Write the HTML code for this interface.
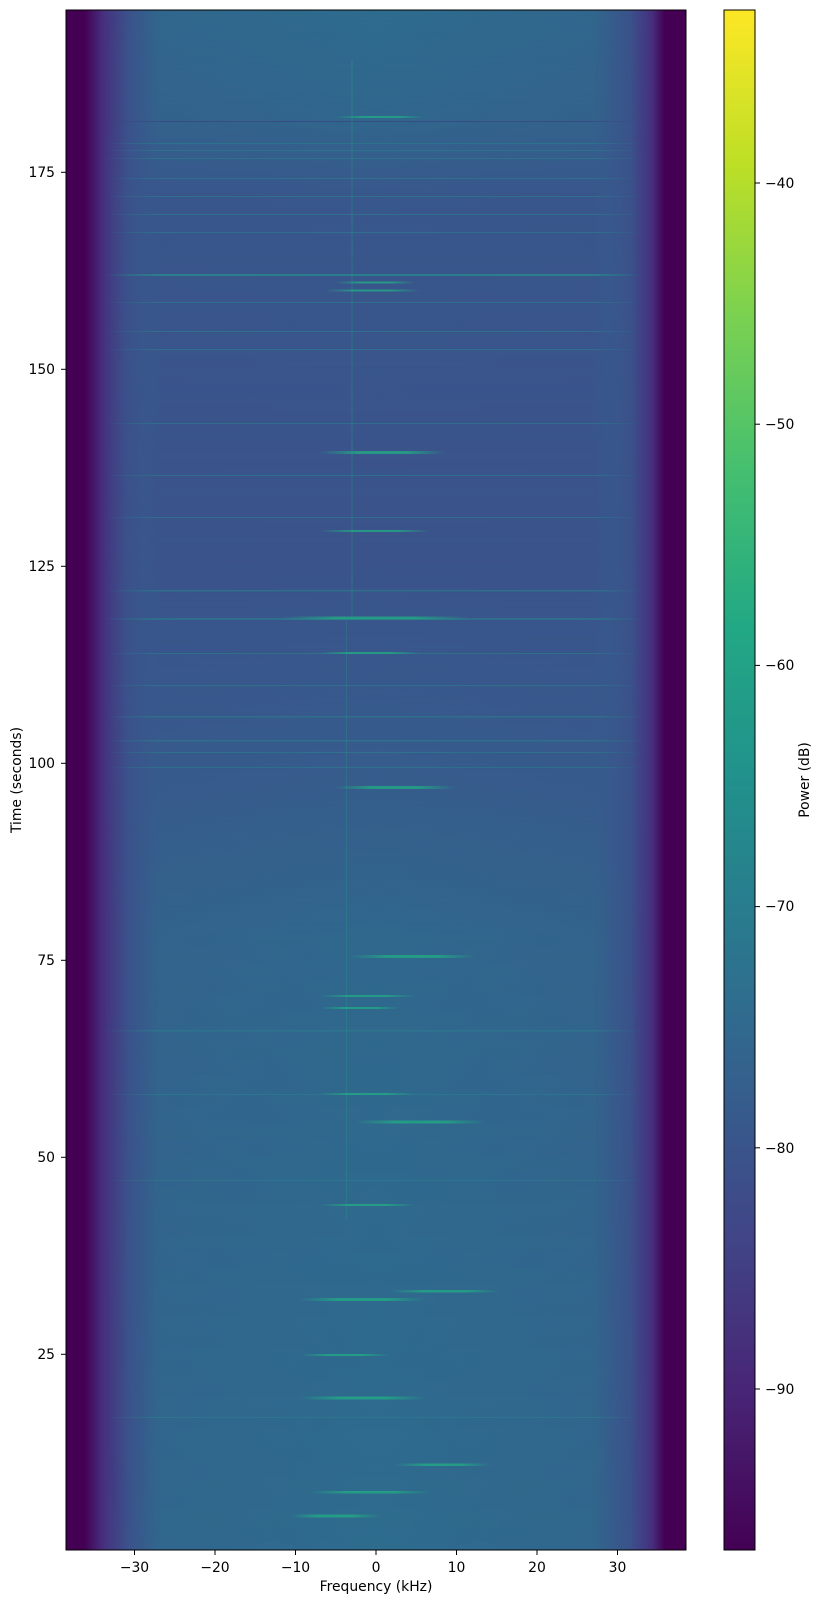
<!DOCTYPE html>
<html><head><meta charset="utf-8"><style>
html,body{margin:0;padding:0;background:#fff;}
svg text{font-family:"DejaVu Sans","Liberation Sans",sans-serif;font-size:13.9px;fill:#000;}
</style></head><body>
<svg width="823" height="1603" viewBox="0 0 823 1603" xmlns="http://www.w3.org/2000/svg">
<defs>
<linearGradient id="hz" x1="66" x2="686" y1="0" y2="0" gradientUnits="userSpaceOnUse">
<stop offset="0" stop-color="#440154"/>
<stop offset="0.03" stop-color="#440154"/>
<stop offset="0.06" stop-color="#46307e"/>
<stop offset="0.10" stop-color="#3b528b"/>
<stop offset="0.15" stop-color="#31678d"/>
<stop offset="0.5" stop-color="#2e6c8e"/>
<stop offset="0.85" stop-color="#31678d"/>
<stop offset="0.91" stop-color="#3b528b"/>
<stop offset="0.945" stop-color="#46307e"/>
<stop offset="0.965" stop-color="#440154"/>
<stop offset="1" stop-color="#440154"/>
</linearGradient>
<linearGradient id="hm" x1="66" x2="686" y1="0" y2="0" gradientUnits="userSpaceOnUse">
<stop offset="0" stop-color="#fff" stop-opacity="0"/>
<stop offset="0.06" stop-color="#fff" stop-opacity="0"/>
<stop offset="0.15" stop-color="#fff" stop-opacity="1"/>
<stop offset="0.85" stop-color="#fff" stop-opacity="1"/>
<stop offset="0.93" stop-color="#fff" stop-opacity="0"/>
<stop offset="1" stop-color="#fff" stop-opacity="0"/>
</linearGradient>
<mask id="mk"><rect x="66" y="10" width="620" height="1540" fill="url(#hm)"/></mask>
<linearGradient id="vt" x1="0" x2="0" y1="10" y2="1550" gradientUnits="userSpaceOnUse">
<stop offset="0" stop-color="#3b528b" stop-opacity="0"/>
<stop offset="0.07" stop-color="#3b528b" stop-opacity="0.2"/>
<stop offset="0.12" stop-color="#3b528b" stop-opacity="0.8"/>
<stop offset="0.35" stop-color="#3b528b" stop-opacity="0.95"/>
<stop offset="0.5" stop-color="#3b528b" stop-opacity="0.6"/>
<stop offset="0.6" stop-color="#3b528b" stop-opacity="0.15"/>
<stop offset="1" stop-color="#3b528b" stop-opacity="0"/>
</linearGradient>
<linearGradient id="st" x1="0" x2="1" y1="0" y2="0">
<stop offset="0" stop-color="#22a884" stop-opacity="0"/>
<stop offset="0.3" stop-color="#22a884" stop-opacity="0.8"/>
<stop offset="0.7" stop-color="#22a884" stop-opacity="0.8"/>
<stop offset="1" stop-color="#22a884" stop-opacity="0"/>
</linearGradient>
<linearGradient id="cb" x1="0" x2="0" y1="1550" y2="10" gradientUnits="userSpaceOnUse">
<stop offset="0" stop-color="#440154"/>
<stop offset="0.1" stop-color="#482475"/>
<stop offset="0.2" stop-color="#414487"/>
<stop offset="0.3" stop-color="#355f8d"/>
<stop offset="0.4" stop-color="#2a788e"/>
<stop offset="0.5" stop-color="#21918c"/>
<stop offset="0.6" stop-color="#22a884"/>
<stop offset="0.7" stop-color="#44bf70"/>
<stop offset="0.8" stop-color="#7ad151"/>
<stop offset="0.9" stop-color="#bddf26"/>
<stop offset="1" stop-color="#fde725"/>
</linearGradient>
</defs>
<rect x="66" y="10" width="620" height="1540" fill="url(#hz)"/>
<rect x="66" y="10" width="620" height="1540" fill="url(#vt)" mask="url(#mk)"/>
<g mask="url(#mk)" fill="#2a7f8e" opacity="0.6">
<rect x="66" y="121" width="620" height="1" fill="#3b3f80"/>
<rect x="66" y="143" width="620" height="1"/><rect x="66" y="150" width="620" height="1"/>
<rect x="66" y="158" width="620" height="1"/><rect x="66" y="178" width="620" height="1"/>
<rect x="66" y="196" width="620" height="1"/><rect x="66" y="214" width="620" height="1"/>
<rect x="66" y="232" width="620" height="1"/><rect x="66" y="274" width="620" height="2" fill="#229a8a"/>
<rect x="66" y="302" width="620" height="1"/><rect x="66" y="331" width="620" height="1"/>
<rect x="66" y="349" width="620" height="1"/><rect x="66" y="423" width="620" height="1"/>
<rect x="66" y="475" width="620" height="1"/><rect x="66" y="517" width="620" height="1"/>
<rect x="66" y="590" width="620" height="1.5"/><rect x="66" y="618" width="620" height="2"/>
<rect x="66" y="653" width="620" height="1"/><rect x="66" y="685" width="620" height="1"/>
<rect x="66" y="716" width="620" height="1.5"/><rect x="66" y="740" width="620" height="1.5"/>
<rect x="66" y="752" width="620" height="1"/><rect x="66" y="767" width="620" height="1"/>
<rect x="66" y="1030" width="620" height="1.5"/><rect x="66" y="1094" width="620" height="1"/>
<rect x="66" y="1180" width="620" height="1"/><rect x="66" y="1417" width="620" height="1"/>
</g>
<rect x="351.5" y="60" width="1" height="560" fill="#22a884" opacity="0.35"/>
<rect x="346" y="620" width="1" height="600" fill="#22a884" opacity="0.25"/>
<g fill="url(#st)">
<rect x="335" y="116" width="90" height="2"/>
<rect x="335" y="281.5" width="80" height="2"/>
<rect x="325" y="289.5" width="95" height="2"/>
<rect x="320" y="451" width="125" height="3"/>
<rect x="320" y="530" width="110" height="2"/>
<rect x="280" y="616.5" width="190" height="3"/>
<rect x="320" y="652" width="100" height="2"/>
<rect x="335" y="786" width="120" height="3"/>
<rect x="350" y="955" width="125" height="3"/>
<rect x="320" y="995" width="95" height="2"/>
<rect x="320" y="1007" width="80" height="2"/>
<rect x="320" y="1093" width="95" height="2"/>
<rect x="355" y="1120.5" width="130" height="3"/>
<rect x="320" y="1204" width="95" height="2"/>
<rect x="390" y="1290" width="110" height="2.5"/>
<rect x="300" y="1298" width="125" height="3"/>
<rect x="300" y="1354" width="90" height="2"/>
<rect x="300" y="1396.5" width="125" height="3"/>
<rect x="395" y="1463.5" width="95" height="2.5"/>
<rect x="310" y="1491" width="120" height="2.5"/>
<rect x="290" y="1514.5" width="90" height="3"/>
</g>
<rect x="66" y="10" width="620" height="1540" fill="none" stroke="#000" stroke-width="1"/>
<g stroke="#000" stroke-width="1">
<line x1="134.5" y1="1550" x2="134.5" y2="1555"/><line x1="215" y1="1550" x2="215" y2="1555"/>
<line x1="295.5" y1="1550" x2="295.5" y2="1555"/><line x1="376" y1="1550" x2="376" y2="1555"/>
<line x1="456.5" y1="1550" x2="456.5" y2="1555"/><line x1="537" y1="1550" x2="537" y2="1555"/>
<line x1="617.5" y1="1550" x2="617.5" y2="1555"/>
<line x1="61" y1="172.3" x2="66" y2="172.3"/><line x1="61" y1="369.3" x2="66" y2="369.3"/>
<line x1="61" y1="566.3" x2="66" y2="566.3"/><line x1="61" y1="763.3" x2="66" y2="763.3"/>
<line x1="61" y1="960.3" x2="66" y2="960.3"/><line x1="61" y1="1157.3" x2="66" y2="1157.3"/>
<line x1="61" y1="1354.3" x2="66" y2="1354.3"/>
</g>
<g text-anchor="middle">
<text x="134.5" y="1572">−30</text><text x="215" y="1572">−20</text><text x="295.5" y="1572">−10</text>
<text x="376" y="1572">0</text><text x="456.5" y="1572">10</text><text x="537" y="1572">20</text><text x="617.5" y="1572">30</text>
<text x="376" y="1591">Frequency (kHz)</text>
</g>
<g text-anchor="end">
<text x="55" y="177">175</text><text x="55" y="374">150</text><text x="55" y="571">125</text>
<text x="55" y="768">100</text><text x="55" y="965">75</text><text x="55" y="1162">50</text><text x="55" y="1359">25</text>
</g>
<text transform="translate(21,780) rotate(-90)" text-anchor="middle">Time (seconds)</text>
<rect x="724" y="10" width="31" height="1540" fill="url(#cb)" stroke="#000" stroke-width="1"/>
<g stroke="#000" stroke-width="1">
<line x1="755" y1="183" x2="760" y2="183"/><line x1="755" y1="424.2" x2="760" y2="424.2"/>
<line x1="755" y1="665.4" x2="760" y2="665.4"/><line x1="755" y1="906.6" x2="760" y2="906.6"/>
<line x1="755" y1="1147.8" x2="760" y2="1147.8"/><line x1="755" y1="1389" x2="760" y2="1389"/>
</g>
<g>
<text x="765" y="188">−40</text><text x="765" y="429">−50</text><text x="765" y="670">−60</text>
<text x="765" y="911">−70</text><text x="765" y="1153">−80</text><text x="765" y="1394">−90</text>
</g>
<text transform="translate(809,780) rotate(-90)" text-anchor="middle">Power (dB)</text>
</svg>
</body></html>
